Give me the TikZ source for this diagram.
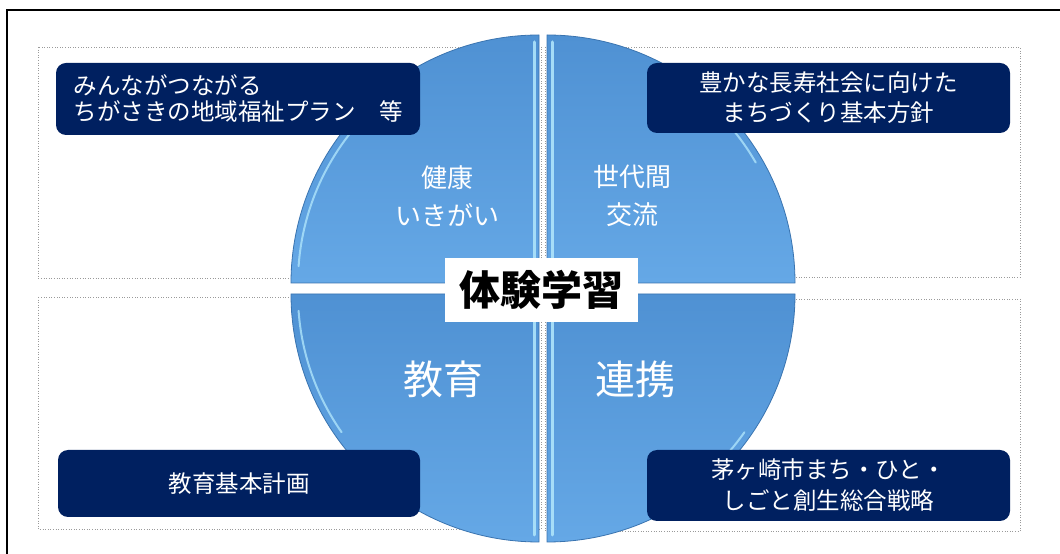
\documentclass[tikz,border=0pt]{standalone}
\usepackage{fontspec}
\newfontfamily\jp{Noto Sans CJK JP}
\definecolor{navy}{HTML}{002060}
\definecolor{qtop}{HTML}{4F91D3}
\definecolor{qbot}{HTML}{65A8E6}
\definecolor{qedge}{HTML}{3A74B0}
\definecolor{qlight}{HTML}{AEE4FB}
\definecolor{frameg}{HTML}{9A9A9A}
\tikzset{
  quad/.style={draw=qedge, line width=0.8pt, top color=qtop, bottom color=qbot},
  hilite/.style={draw=qlight, line width=3pt, line cap=round, opacity=0.9},
  arclite/.style={draw=qlight, line width=2pt, line cap=round, opacity=0.8},
  frame/.style={draw=frameg, dotted, line width=0.6pt},
  navybox/.style={fill=navy, rounded corners=10pt, text=white, inner sep=0pt,
    font=\jp\fontsize{23.5}{26}\selectfont},
  qlabel/.style={text=white, align=center, font=\jp\fontsize{26}{38}\selectfont},
  biglabel/.style={text=white, font=\jp\fontsize{40}{40}\selectfont},
}
\begin{document}
\begin{tikzpicture}[x=1pt,y=1pt]
\useasboundingbox (0,0) rectangle (1060,554);
\fill[white] (0,0) rectangle (1060,554);
\begin{scope}
\clip (0,0) rectangle (1060,554);
% outer frame (right and bottom sides fall outside the picture)
\draw[black, line width=2pt] (7,-20) -- (7,544) -- (1080,544);
% dotted frames
\draw[frame] (38,507) rectangle (541,276);
\draw[frame] (545,507) rectangle (1020,277);
\draw[frame] (38,257) rectangle (541,25);
\draw[frame] (545,255) rectangle (1020,23);
% quadrants
\path[quad] (539,271) -- (291,271) arc[start angle=180,end angle=90,radius=248pt] -- cycle;
\path[quad] (547,271) -- (547,519) arc[start angle=90,end angle=0,radius=248pt] -- cycle;
\path[quad] (539,260) -- (539,12) arc[start angle=270,end angle=180,radius=248pt] -- cycle;
\path[quad] (547,260) -- (795,260) arc[start angle=0,end angle=-90,radius=248pt] -- cycle;
% bevel highlights
\draw[hilite] (534,277) -- (534,512);
\draw[hilite] (552,277) -- (552,512);
\draw[hilite] (534,254) -- (534,19);
\draw[hilite] (552,254) -- (552,19);
\draw[arclite] (539,271) ++(176:241) arc[start angle=176,end angle=135,radius=241pt];
\draw[arclite] (539,260) ++(184:241) arc[start angle=184,end angle=215,radius=241pt];
\draw[arclite] (547,271) ++(60:241) arc[start angle=60,end angle=30,radius=241pt];
\draw[arclite] (547,260) ++(-35:241) arc[start angle=-35,end angle=-60,radius=241pt];
\end{scope}
% quadrant labels
\node[qlabel] (kenko) at (447,358) {健康\\いきがい};
\node[qlabel] (sedai) at (632,358) {世代間\\交流};
\node[biglabel] (kyoiku) at (443,175) {教育};
\node[biglabel] (renkei) at (635,175) {連携};
% centre label
\node[fill=white, minimum width=193pt, minimum height=64pt, inner sep=0pt,
  font=\jp\bfseries\fontsize{41}{41}\selectfont] (taiken) at (541.5,264) {体験学習};
% navy boxes
\node[navybox, minimum width=364pt, minimum height=72pt, align=left] (plan1) at (238,455)
  {みんながつながる\\ちがさきの地域福祉プラン　等};
\node[navybox, minimum width=363pt, minimum height=70pt, align=center,
  font=\jp\fontsize{23.5}{30}\selectfont] (plan2) at (828.5,456)
  {豊かな長寿社会に向けた\\まちづくり基本方針};
\node[navybox, minimum width=362pt, minimum height=67pt] (plan3) at (239,70.5)
  {教育基本計画};
\node[navybox, minimum width=363pt, minimum height=71pt, align=center,
  font=\jp\fontsize{23.5}{31}\selectfont] (plan4) at (828.5,68.5)
  {茅ヶ崎市まち・ひと・\\しごと創生総合戦略};
\end{tikzpicture}
\end{document}
